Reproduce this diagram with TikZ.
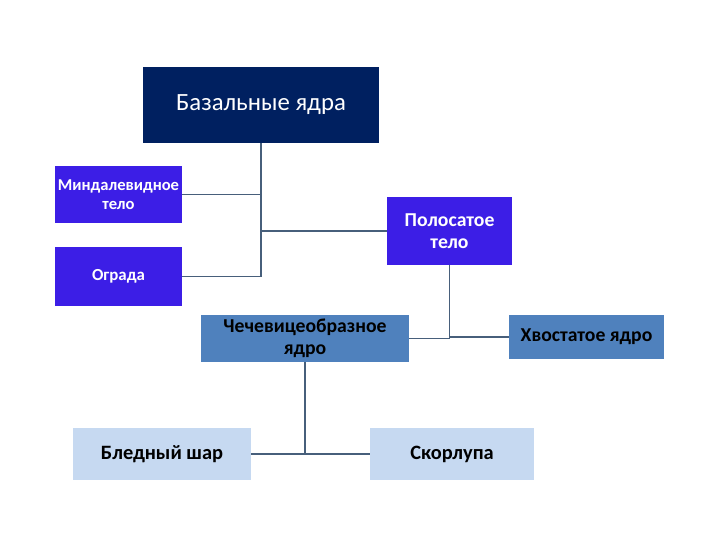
\documentclass[tikz,border=0pt]{standalone}
\usepackage{fontspec}
\setmainfont{Carlito}
\usepackage{tikz}
\usetikzlibrary{positioning}
\definecolor{navy}{HTML}{002060}
\definecolor{violet}{HTML}{3C1EE6}
\definecolor{midblue}{HTML}{4F81BD}
\definecolor{paleblue}{HTML}{C6D9F1}
\definecolor{linkgray}{HTML}{475F7B}
\tikzset{
  rootbox/.style={rectangle, fill=navy, text=white, align=center, inner sep=0pt, font=\fontsize{17.6}{20}\selectfont},
  partbox/.style={rectangle, fill=violet, text=white, align=center, inner sep=0pt, font=\bfseries\fontsize{14}{15.5}\selectfont},
  nucbox/.style={rectangle, fill=midblue, text=black, align=center, inner sep=0pt, font=\bfseries\fontsize{14}{16}\selectfont},
  subbox/.style={rectangle, fill=paleblue, text=black, align=center, inner sep=0pt, font=\bfseries\fontsize{14.5}{16}\selectfont},
  link/.style={draw=linkgray, line width=1.4pt}
}

\begin{document}
\begin{tikzpicture}[x=0.025cm, y=-0.025cm]
  \fill[white] (0,0) rectangle (720,540);
  \useasboundingbox (0,0) rectangle (720,540);

  \node[rootbox, minimum width=5.9cm, minimum height=1.9cm] (basal) at (261,105) {Базальные ядра};
  \node[partbox, minimum width=3.175cm, minimum height=1.425cm, font=\bfseries\fontsize{11.8}{13.5}\selectfont] (amyg) at (118.5,194.5) {Миндалевидное\\тело};
  \node[partbox, minimum width=3.175cm, minimum height=1.475cm, font=\bfseries\fontsize{12}{14}\selectfont] (claus) at (118.5,276.5) {Ограда};
  \node[partbox, minimum width=3.125cm, minimum height=1.7cm] (striat) at (449.5,231) {Полосатое\\тело};
  \node[nucbox, minimum width=5.2cm, minimum height=1.175cm] (lentif) at (305,338.5) {Чечевицеобразное\\ядро};
  \node[nucbox, minimum width=3.875cm, minimum height=1.1cm] (caudat) at (586.5,337) {Хвостатое ядро};
  \node[subbox, minimum width=4.45cm, minimum height=1.3cm] (pallid) at (162,454) {Бледный шар};
  \node[subbox, minimum width=4.1cm, minimum height=1.3cm] (putam) at (452,454) {Скорлупа};

  \draw[link] (basal) |- (amyg);
  \draw[link] (basal) |- (striat);
  \draw[link] (basal) |- (claus);
  \draw[link] (striat) |- (lentif);
  \draw[link] (striat) |- (caudat);
  \draw[link] (lentif) |- (pallid);
  \draw[link] (lentif) |- (putam);
\end{tikzpicture}
\end{document}
